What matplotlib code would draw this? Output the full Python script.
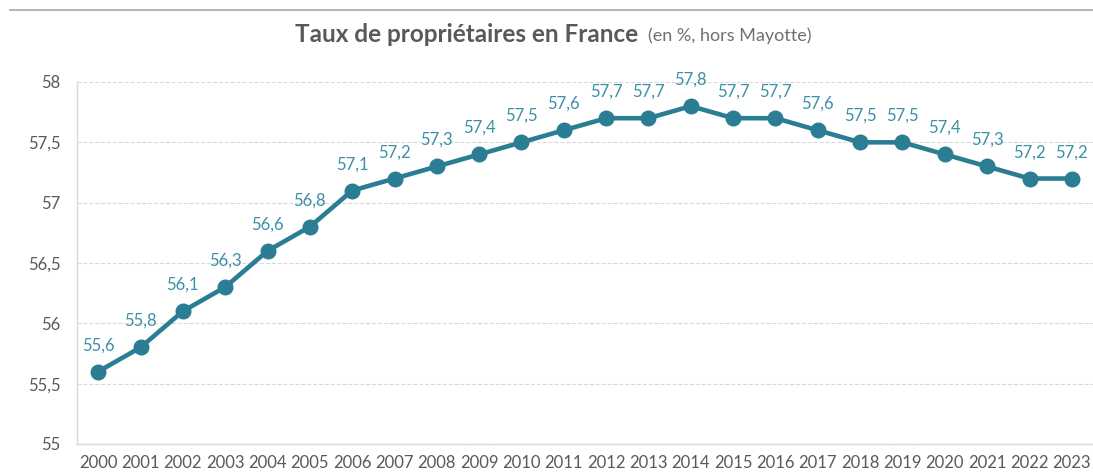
import matplotlib.pyplot as plt
from matplotlib.lines import Line2D

# Taux de propriétaires en France, 2000-2023
years = [str(y) for y in range(2000, 2024)]
taux = [55.6, 55.8, 56.1, 56.3, 56.6, 56.8, 57.1, 57.2, 57.3, 57.4, 57.5, 57.6,
        57.7, 57.7, 57.8, 57.7, 57.7, 57.6, 57.5, 57.5, 57.4, 57.3, 57.2, 57.2]
y_ticks = [55, 55.5, 56, 56.5, 57, 57.5, 58]

plt.rcParams['font.family'] = ['Lato', 'DejaVu Sans']

LINE = '#2b7d93'
LABEL = '#3b8fa6'
TEXT = '#595959'

fig = plt.figure(figsize=(10.93, 4.75), dpi=100)
ax = fig.add_axes([77 / 1093, 1 - 444 / 475, 1 - 77 / 1093, (444 - 82) / 475])

x = list(range(len(years)))
ax.plot(x, taux, color=LINE, lw=3.3, marker='o', ms=10.5, zorder=3)

for xi, v in zip(x, taux):
    ax.annotate(f'{v:.1f}'.replace('.', ','), (xi, v), xytext=(0, 19),
                textcoords='offset points', ha='center', va='center',
                fontsize=12, color=LABEL)

ax.set_xlim(-0.5, len(years) - 0.5)
ax.set_ylim(55, 58)
ax.set_xticks(x)
ax.set_xticklabels(years)
ax.set_yticks(y_ticks)
ax.set_yticklabels([f'{t:g}'.replace('.', ',') for t in y_ticks])
ax.tick_params(axis='both', length=0, labelsize=12, colors=TEXT)
ax.tick_params(axis='x', pad=8)
ax.tick_params(axis='y', pad=12)

ax.grid(axis='y', color='#d9d9d9', linestyle='--', lw=0.8)
for side in ['top', 'right']:
    ax.spines[side].set_visible(False)
for side in ['left', 'bottom']:
    ax.spines[side].set_color('#d9d9d9')
    ax.spines[side].set_linewidth(1)

# top rule and title
fig.add_artist(Line2D([10 / 1093, 1], [1 - 10 / 475] * 2, color='#a6a6a6', lw=1.2))
fig.text(638 / 1093, 1 - 35 / 475, 'Taux de propriétaires en France', ha='right',
         va='center', fontsize=17.5, fontweight='bold', color=TEXT)
fig.text(648 / 1093, 1 - 36 / 475, '(en %, hors Mayotte)', ha='left',
         va='center', fontsize=13, color='#707070')

fig.savefig('out.png', dpi=100)
